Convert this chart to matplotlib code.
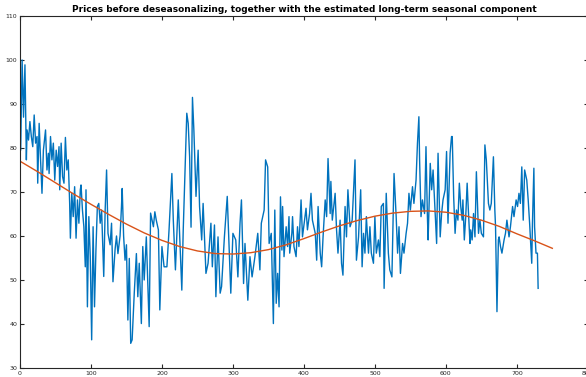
import numpy as np
import matplotlib
matplotlib.use("Agg")
import matplotlib.pyplot as plt

# daily prices (day index, price)
days = [0, 1, 3, 5, 7, 9, 10, 12, 14, 16, 18, 20, 22, 24, 25, 27, 29, 31, 33, 36,
        38, 40, 41, 43, 45, 47, 49, 51, 53, 55, 56, 58, 60, 62, 64, 66, 68, 70, 71, 73,
        75, 77, 79, 81, 83, 85, 86, 88, 90, 92, 93, 95, 97, 99, 101, 103, 105, 107, 109, 111,
        113, 115, 117, 118, 120, 122, 124, 127, 129, 131, 134, 136, 138, 141, 143, 144, 146, 148, 150, 152,
        154, 156, 158, 161, 164, 166, 168, 171, 173, 175, 178, 182, 184, 188, 190, 192, 195, 197, 200, 203,
        207, 210, 214, 216, 219, 223, 228, 230, 235, 237, 239, 241, 243, 245, 248, 251, 253, 256, 258, 262,
        265, 269, 271, 274, 276, 279, 282, 284, 288, 292, 295, 297, 300, 304, 307, 310, 312, 315, 317, 321,
        324, 327, 331, 335, 338, 340, 344, 346, 349, 351, 354, 357, 359, 361, 363, 365, 367, 369, 370, 372,
        375, 377, 379, 380, 383, 384, 386, 389, 391, 393, 396, 398, 401, 403, 405, 408, 410, 412, 416, 418,
        420, 423, 425, 427, 430, 432, 434, 437, 438, 440, 444, 446, 448, 451, 453, 455, 458, 460, 462, 465,
        468, 472, 474, 477, 478, 480, 482, 484, 486, 488, 491, 493, 495, 498, 500, 502, 505, 507, 509, 512,
        513, 516, 519, 521, 524, 526, 527, 530, 532, 534, 536, 539, 541, 544, 546, 548, 550, 553, 555, 558,
        560, 562, 563, 565, 567, 570, 572, 574, 575, 578, 580, 582, 585, 587, 589, 592, 594, 596, 599, 601,
        603, 606, 608, 609, 611, 613, 615, 617, 619, 621, 623, 624, 626, 628, 630, 631, 634, 635, 637, 639,
        641, 643, 646, 648, 650, 653, 655, 657, 660, 662, 664, 667, 669, 670, 672, 674, 675, 677, 679, 682,
        684, 686, 689, 691, 694, 696, 699, 701, 703, 705, 707, 709, 711, 714, 716, 718, 721, 722, 724, 725,
        727, 729, 730]
prices = [100.4, 79.5, 100.0, 87.0, 98.9, 77.3, 84.1, 81.8, 86.0, 82.6, 80.3, 87.5, 81.1, 82.6, 72.0, 85.6, 77.3, 69.7, 79.5, 84.1,
          75.0, 78.8, 74.2, 82.6, 77.3, 81.1, 72.7, 79.5, 75.8, 80.3, 70.5, 81.1, 73.5, 72.0, 82.4, 75.0, 77.3, 67.4, 59.5, 69.7,
          64.4, 71.2, 59.5, 68.2, 62.9, 70.5, 71.6, 65.9, 62.1, 53.0, 70.5, 43.9, 64.4, 55.3, 36.4, 62.1, 43.9, 56.8, 66.7, 67.4,
          62.9, 65.9, 55.3, 50.8, 65.9, 75.0, 60.6, 58.0, 62.9, 49.6, 57.0, 60.0, 56.0, 60.0, 66.7, 70.8, 60.0, 54.5, 58.0, 40.9,
          54.9, 35.6, 36.4, 47.0, 56.0, 46.2, 53.8, 40.1, 57.6, 50.0, 59.8, 39.4, 65.2, 62.1, 65.5, 63.6, 61.4, 43.2, 57.6, 53.0,
          53.0, 61.4, 74.2, 63.6, 52.3, 68.2, 47.7, 61.4, 87.9, 85.6, 78.0, 62.0, 91.5, 84.0, 69.0, 79.5, 66.7, 59.1, 67.4, 51.5,
          53.8, 62.9, 53.0, 62.5, 46.2, 59.8, 47.0, 48.5, 59.8, 69.0, 56.0, 47.0, 60.6, 59.1, 50.7, 62.9, 68.2, 49.2, 58.3, 45.4,
          55.3, 50.7, 55.3, 60.6, 52.3, 62.9, 65.9, 77.3, 75.7, 58.3, 60.6, 40.1, 65.9, 44.7, 51.5, 43.9, 68.9, 56.8, 66.7, 55.3,
          62.1, 57.6, 64.4, 56.1, 60.6, 64.4, 57.6, 55.3, 62.1, 57.6, 68.2, 59.8, 63.6, 66.3, 61.4, 65.1, 69.7, 63.6, 60.6, 54.5,
          66.7, 56.1, 53.0, 59.8, 68.2, 64.4, 77.6, 65.1, 72.4, 63.6, 69.7, 61.4, 56.1, 63.6, 53.8, 51.1, 66.7, 59.8, 70.5, 62.1,
          63.6, 77.3, 54.5, 59.8, 63.6, 70.5, 53.0, 60.6, 56.1, 64.4, 56.1, 62.1, 56.1, 53.8, 64.4, 56.1, 59.1, 55.3, 66.7, 67.4,
          48.1, 69.7, 56.1, 52.3, 50.7, 65.9, 74.2, 64.4, 56.1, 62.1, 51.5, 58.3, 56.1, 60.6, 62.9, 69.7, 65.9, 71.2, 67.4, 72.7,
          81.1, 87.1, 77.3, 64.4, 68.2, 65.1, 80.3, 64.4, 59.1, 76.5, 70.5, 75.0, 65.1, 58.3, 78.8, 59.8, 65.1, 68.2, 70.5, 79.2,
          62.9, 78.8, 82.6, 82.6, 68.9, 60.6, 65.9, 63.6, 72.0, 66.7, 63.6, 68.2, 59.1, 64.4, 72.0, 68.2, 58.3, 61.4, 59.1, 65.1,
          59.8, 74.6, 60.6, 63.6, 60.6, 59.8, 80.7, 77.3, 67.4, 65.9, 67.4, 78.0, 65.9, 62.1, 42.8, 59.1, 59.8, 57.6, 56.1, 59.1,
          60.6, 63.6, 59.8, 62.1, 66.7, 64.4, 68.2, 66.7, 69.7, 67.4, 75.7, 63.6, 75.0, 72.7, 68.2, 62.9, 53.8, 62.9, 75.4, 62.1,
          56.1, 56.1, 48.1]

# long-term seasonal component
season_days = [0, 25, 50, 75, 100, 125, 150, 175, 200, 225, 250, 275, 300, 325, 350, 375,
               400, 425, 450, 475, 500, 525, 550, 575, 600, 625, 650, 675, 700, 725, 750]
season_vals = [77.0, 74.6, 72.1, 69.6, 67.2, 64.9, 62.7, 60.7, 59.0, 57.6, 56.6, 56.0, 55.9, 56.2, 56.9, 58.0,
               59.4, 60.9, 62.3, 63.5, 64.5, 65.2, 65.6, 65.7, 65.4, 64.7, 63.6, 62.2, 60.5, 58.9, 57.2]

fig = plt.figure(figsize=(5.86, 3.77), dpi=100)
ax = fig.add_axes([0.0341, 0.0239, 0.969, 0.9337])

ax.plot(days, prices, color='#0072BD', linewidth=1.0)
ax.plot(season_days, season_vals, color='#D95319', linewidth=1.0)

ax.set_xlim(0, 800)
ax.set_ylim(30, 110)
ax.set_xticks(np.arange(0, 801, 100))
ax.set_yticks(np.arange(30, 111, 10))
ax.tick_params(direction='in', length=3, width=0.8, labelsize=4.5,
               colors='#262626', top=True, right=True, pad=2)
for side in ax.spines.values():
    side.set_color('#262626')
    side.set_linewidth(0.8)

ax.set_title('Prices before deseasonalizing, together with the estimated long-term seasonal component',
             fontsize=6.5, fontweight='bold', pad=3)

fig.savefig('out.png', dpi=100)
